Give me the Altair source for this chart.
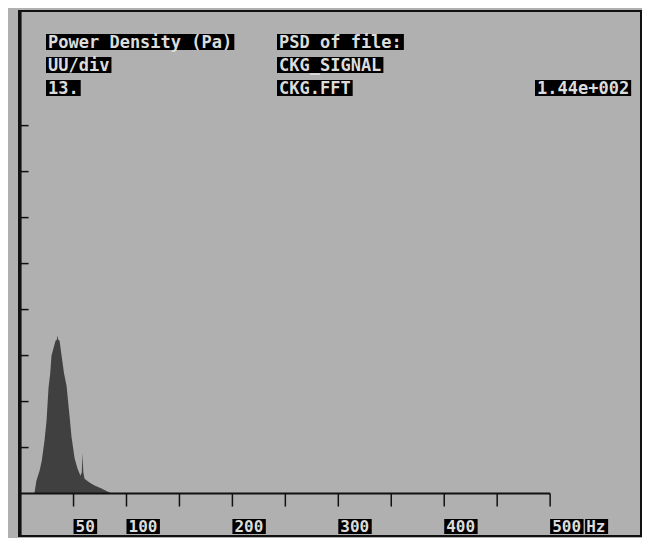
import altair as alt
import pandas as pd

# ---- data ----
freq_hz = [13, 15, 18, 20, 22.6, 24.5, 26.4, 28, 29.2, 31, 33, 34.2, 34.9, 35.6,
           36.8, 38.7, 41, 43.4, 46.2, 48.1, 51, 53.8, 56.5, 57.8, 58.5, 59.2,
           60.4, 65, 69.8, 76.4, 82, 86]
power = [0, 3.7, 6.5, 9.3, 15, 20.6, 30, 34, 39, 41, 43.2, 43.5, 44.7, 43.5,
         43.2, 39, 34, 30.5, 22, 16, 10, 7, 5, 6, 11.5, 6,
         4.2, 3.1, 2.3, 1.4, 0.6, 0]

x_ticks = [50, 100, 150, 200, 250, 300, 350, 400, 450, 500]
x_label_vals = [50, 100, 200, 300, 400, 500]
x_labels = ["50", "100", "200", "300", "400", "500"]
unit_label = "Hz"
y_ticks = [13, 26, 39, 52, 65, 78, 91, 104]

header_left = ["Power Density (Pa)", "UU/div", "13."]
header_mid = ["PSD of file:", "CKG_SIGNAL", "CKG.FFT"]
header_right = "1.44e+002"

# ---- layout / style ----
W, H = 622, 525
XMIN, XMAX = -1.5, 585.8
YMIN, YMAX = -12.0, 136.4
PX_X = W / (XMAX - XMIN)
PX_Y = H / (YMAX - YMIN)

BG = "#b0b0b0"
INK = "#111111"
FILL = "#404040"
TXT = "#dcdcdc"
FONT = "DejaVu Sans Mono"

xs = alt.Scale(domain=[XMIN, XMAX], nice=False, zero=False)
ys = alt.Scale(domain=[YMIN, YMAX], nice=False, zero=False)


def X(f):
    return alt.X(f, type="quantitative", scale=xs, axis=None)


def Y(f):
    return alt.Y(f, type="quantitative", scale=ys, axis=None)


spec_df = pd.DataFrame({"f": freq_hz, "p": power})
spectrum = alt.Chart(spec_df).mark_area(color=FILL, interpolate="linear").encode(
    x=X("f"), y=Y("p"), y2=alt.datum(0)
)

base = alt.Chart(pd.DataFrame({"a": [0]}))

x_axis = base.mark_rule(color=INK, strokeWidth=2).encode(
    x=alt.X(datum=0, type="quantitative", scale=xs, axis=None),
    x2=alt.datum(max(x_ticks)),
    y=alt.Y(datum=0, type="quantitative", scale=ys, axis=None),
)
y_axis = base.mark_rule(color=INK, strokeWidth=2).encode(
    x=alt.X(datum=0, type="quantitative", scale=xs, axis=None),
    y=alt.Y(datum=YMIN, type="quantitative", scale=ys, axis=None),
    y2=alt.datum(YMAX),
)

xt = alt.Chart(pd.DataFrame({"t": x_ticks})).mark_rule(color=INK, strokeWidth=1.5).encode(
    x=X("t"), y=alt.Y(datum=0, type="quantitative", scale=ys, axis=None),
    y2=alt.datum(-13 / PX_Y),
)
yt = alt.Chart(pd.DataFrame({"t": y_ticks})).mark_rule(color=INK, strokeWidth=1.5).encode(
    y=Y("t"), x=alt.X(datum=0, type="quantitative", scale=xs, axis=None),
    x2=alt.datum(8 / PX_X),
)

lab_df = pd.DataFrame({"v": x_label_vals, "label": x_labels})
lab_box = alt.Chart(lab_df).transform_calculate(
    v2=f"datum.v + (length(datum.label) * 9.8 + 4) / {PX_X}"
).mark_rect(color="#000000").encode(
    x=X("v"), x2="v2:Q", y=alt.value(508), y2=alt.value(523)
)
lab_txt = alt.Chart(lab_df).mark_text(
    align="left", baseline="middle", dx=2, font=FONT, fontSize=16,
    fontWeight="bold", color=TXT
).encode(x=X("v"), y=alt.value(516), text="label:N")

unit_box = base.mark_rect(color="#000000", xOffset=35, x2Offset=58).encode(
    x=alt.X(datum=max(x_ticks), type="quantitative", scale=xs, axis=None),
    x2=alt.datum(max(x_ticks)), y=alt.value(508), y2=alt.value(523)
)
unit_txt = base.mark_text(
    align="left", baseline="middle", dx=36, font=FONT, fontSize=16,
    fontWeight="bold", color=TXT
).encode(
    x=alt.X(datum=max(x_ticks), type="quantitative", scale=xs, axis=None),
    y=alt.value(516), text=alt.value(unit_label)
)

CHAR = 10.24
ROW_Y = [31, 54, 77]
headers = []
for col_x, lines in [(27, header_left), (258, header_mid)]:
    for ry, s in zip(ROW_Y, lines):
        headers.append((col_x, ry, s))
headers.append((516, ROW_Y[2], header_right))

hdr_layers = []
for hx, hy, s in headers:
    w = len(s) * CHAR + 4
    hdr_layers.append(base.mark_rect(color="#000000").encode(
        x=alt.value(hx), x2=alt.value(hx + w), y=alt.value(hy - 8), y2=alt.value(hy + 8)
    ))
    hdr_layers.append(base.mark_text(
        align="left", baseline="middle", dx=2, font=FONT, fontSize=17,
        fontWeight="bold", color=TXT
    ).encode(x=alt.value(hx), y=alt.value(hy + 1), text=alt.value(s)))

chart = alt.layer(
    spectrum, x_axis, y_axis, xt, yt, lab_box, lab_txt, unit_box, unit_txt, *hdr_layers
).properties(
    width=W, height=H, background=BG,
    padding={"left": 11, "top": 2, "right": 1, "bottom": 1},
).configure_view(stroke=INK, strokeWidth=2, fill=BG)

chart.save("out.html", embed_options={"renderer": "svg", "actions": False})
